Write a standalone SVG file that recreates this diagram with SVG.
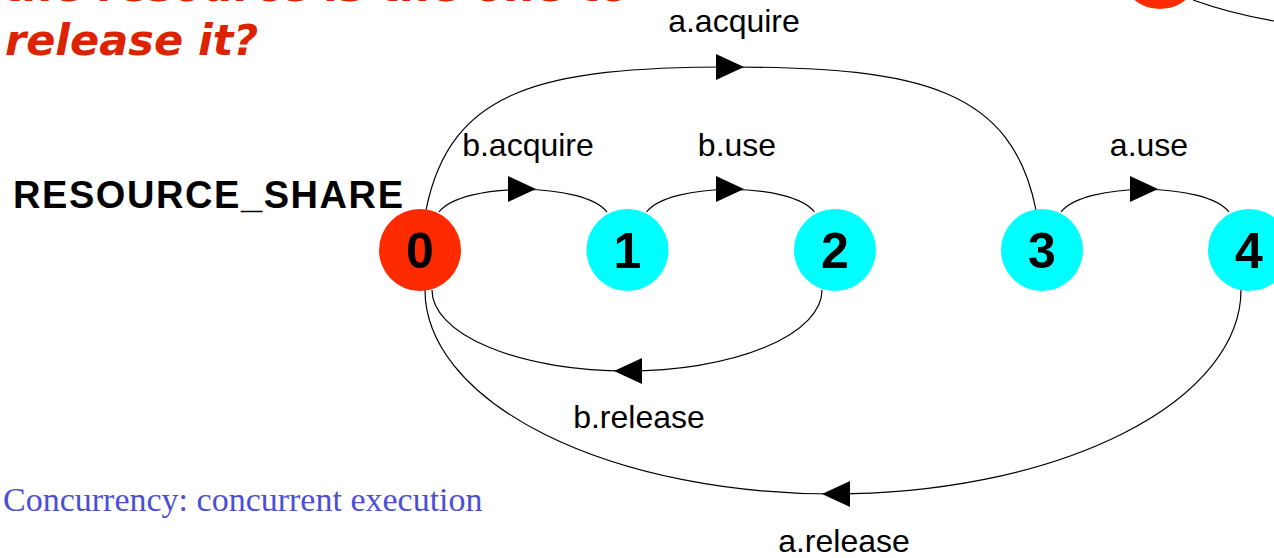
<svg xmlns="http://www.w3.org/2000/svg" xmlns:xlink="http://www.w3.org/1999/xlink" width="1274" height="558" viewBox="0 0 1274 558">
  <style>
    .edge { fill: none; stroke: #000; stroke-width: 1.2; }
    .arrowhead { fill: #000; }
    .lbl { font-family: "Liberation Sans", Arial, sans-serif; font-size: 32px; fill: #000; text-anchor: middle; }
    .num { font-family: "Liberation Sans", Arial, sans-serif; font-weight: bold; font-size: 50px; fill: #000; text-anchor: middle; }
    .initial { fill: #ff2a00; }
    .state { fill: #00ffff; }
    .question { font-family: "DejaVu Sans", sans-serif; font-weight: bold; font-style: italic; font-size: 43px; fill: #dd2200; }
    .title { font-family: "Liberation Sans", Arial, sans-serif; font-weight: bold; font-size: 38px; fill: #000; }
    .footer { font-family: "Liberation Serif", "Times New Roman", serif; font-size: 34px; fill: #4b4fd6; }
  </style>
  <defs>
    <path id="arr" d="M-14,-13 L14,0 L-14,13 Z"/>
  </defs>
  <rect width="1274" height="558" fill="#ffffff"/>

  <!-- partial question text (cut off at top, as in the reference) -->
  <g id="question">
    <text class="question" x="3" y="0.5">the resource is the one to</text>
    <text class="question" x="5" y="55">release it?</text>
  </g>

  <!-- partial shapes at top right -->
  <g id="partial-top-right">
    <circle cx="1160" cy="-32" r="41" fill="#ff2a00"/>
    <path class="edge" d="M1193,0 C1215,8 1245,16 1274,21"/>
  </g>

  <text class="title" x="13" y="208" textLength="390" lengthAdjust="spacing">RESOURCE_SHARE</text>

  <g id="connectors">
    <!-- a.acquire 0 -> 3 -->
    <path class="edge" d="M426,210 C450,90 540,67 731,67 C922,67 1012,90 1036,210"/>
    <use xlink:href="#arr" class="arrowhead" transform="translate(730,67)"/>
    <!-- b.acquire 0 -> 1 -->
    <path class="edge" d="M439,212 C462,182 584,182 607,212"/>
    <use xlink:href="#arr" class="arrowhead" transform="translate(522,189)"/>
    <!-- b.use 1 -> 2 -->
    <path class="edge" d="M646.5,212 C669.5,182 791.5,182 814.5,212"/>
    <use xlink:href="#arr" class="arrowhead" transform="translate(730,189)"/>
    <!-- a.use 3 -> 4 -->
    <path class="edge" d="M1061,212 C1084,182 1206,182 1229,212"/>
    <use xlink:href="#arr" class="arrowhead" transform="translate(1144,189)"/>
    <!-- b.release 2 -> 0 -->
    <path class="edge" d="M822,290 A195,81 0 0 1 432,290"/>
    <use xlink:href="#arr" class="arrowhead" transform="translate(628,371) rotate(180)"/>
    <!-- a.release 4 -> 0 -->
    <path class="edge" d="M1241,290 A408,204 0 0 1 425,290"/>
    <use xlink:href="#arr" class="arrowhead" transform="translate(836,494) rotate(180)"/>

    <text class="lbl" x="734" y="32">a.acquire</text>
    <text class="lbl" x="528" y="156">b.acquire</text>
    <text class="lbl" x="737" y="156">b.use</text>
    <text class="lbl" x="1149" y="156">a.use</text>
    <text class="lbl" x="639" y="428">b.release</text>
    <text class="lbl" x="844" y="552">a.release</text>
  </g>

  <g id="node0">
    <circle class="initial" cx="420" cy="250" r="41"/>
    <text class="num" x="420" y="268">0</text>
  </g>
  <g id="node1">
    <circle class="state" cx="627.5" cy="250" r="41"/>
    <text class="num" x="627.5" y="268">1</text>
  </g>
  <g id="node2">
    <circle class="state" cx="835" cy="250" r="41"/>
    <text class="num" x="835" y="268">2</text>
  </g>
  <g id="node3">
    <circle class="state" cx="1042" cy="250" r="41"/>
    <text class="num" x="1042" y="268">3</text>
  </g>
  <g id="node4">
    <circle class="state" cx="1249" cy="250" r="41"/>
    <text class="num" x="1249" y="268">4</text>
  </g>

  <text class="footer" x="3" y="511">Concurrency: concurrent execution</text>
</svg>
